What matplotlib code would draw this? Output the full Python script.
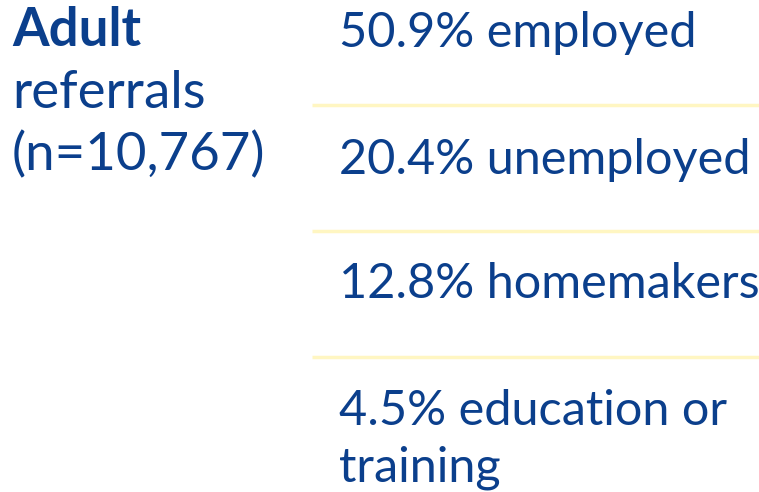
import matplotlib
matplotlib.use("Agg")
import matplotlib.pyplot as plt

# Data
group_title = "Adult"
group_lines = ["referrals", "(n=10,767)"]
shares = [50.9, 20.4, 12.8, 4.5]
labels = [["employed"], ["unemployed"], ["homemakers"], ["education or", "training"]]

BLUE = "#0B3F8C"
YELLOW = "#FFF6C2"
plt.rcParams['font.family'] = ['Lato', 'DejaVu Sans']

fig = plt.figure(figsize=(7.59, 4.92), dpi=100)
ax = fig.add_axes([0, 0, 1, 1])
ax.set_xlim(0, 759)
ax.set_ylim(492, 0)
ax.axis("off")

# left block
ax.text(12, 46, group_title, fontsize=38, fontweight="bold", color=BLUE, va="baseline")
for i, line in enumerate(group_lines):
    ax.text(12, 46 + 62 * (i + 1), line, fontsize=38, color=BLUE, va="baseline")

# right block: rows separated by yellow lines
row_baselines = [47, 174, 298, 425]
for y0, s, lab in zip(row_baselines, shares, labels):
    ax.text(339, y0, f"{s}% {lab[0]}", fontsize=35, color=BLUE, va="baseline")
    for j, extra in enumerate(lab[1:]):
        ax.text(339, y0 + 56 * (j + 1), extra, fontsize=35, color=BLUE, va="baseline")

for ysep in [105, 231, 357]:
    ax.hlines(ysep, 312, 759, color=YELLOW, linewidth=2.5)

fig.savefig("out.png", dpi=100)
